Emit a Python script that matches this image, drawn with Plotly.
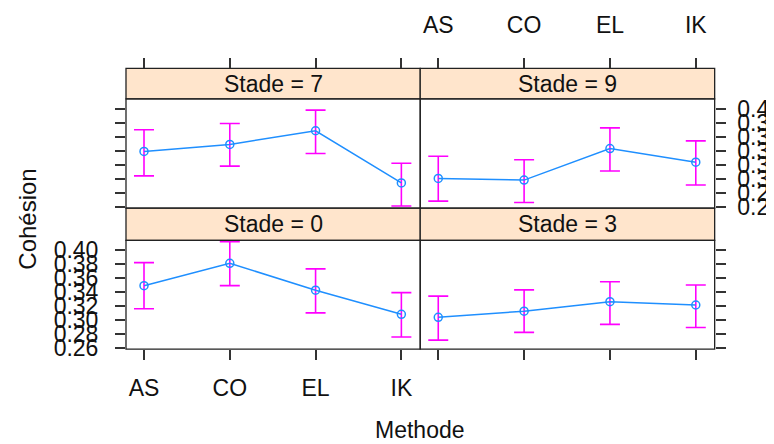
import plotly.graph_objects as go

methods = ["AS", "CO", "EL", "IK"]
stades = ["0", "3", "7", "9"]

# mean, lower, upper per stade
mean_s0 = [0.349, 0.381, 0.3425, 0.308]
lo_s0 = [0.316, 0.349, 0.310, 0.2754]
hi_s0 = [0.382, 0.412, 0.373, 0.339]

mean_s3 = [0.3036, 0.3125, 0.326, 0.3213]
lo_s3 = [0.271, 0.282, 0.2935, 0.289]
hi_s3 = [0.334, 0.343, 0.3546, 0.350]

mean_s7 = [0.339, 0.349, 0.3685, 0.294]
lo_s7 = [0.304, 0.318, 0.336, 0.261]
hi_s7 = [0.370, 0.379, 0.398, 0.322]

mean_s9 = [0.3004, 0.298, 0.343, 0.3236]
lo_s9 = [0.268, 0.266, 0.311, 0.291]
hi_s9 = [0.332, 0.327, 0.3726, 0.354]

y_ticks = [0.26, 0.28, 0.30, 0.32, 0.34, 0.36, 0.38, 0.40]
y_tick_text = ["0.26", "0.28", "0.30", "0.32", "0.34", "0.36", "0.38", "0.40"]

W, H = 774, 444
FONT = "Liberation Sans, Arial, sans-serif"
FS = 23
BLUE = "#1f8fff"
MAG = "#ff00ff"
STRIP = "#ffe5cc"

def px_x(v):
    return v / W

def px_y(v):
    return 1 - v / H

# panel geometry (pixels)
xl0, xl1 = 118.3, 413.3
xr0, xr1 = 413.3, 708.5
top_strip0, top_plot0, top_plot1 = 59.3, 91.0, 204.0
bot_strip0, bot_plot0, bot_plot1 = 204.0, 237.3, 350.0

panels = [
    ("0", mean_s0, lo_s0, hi_s0, (xl0, xl1), (bot_plot0, bot_plot1), bot_strip0, 1),
    ("3", mean_s3, lo_s3, hi_s3, (xr0, xr1), (bot_plot0, bot_plot1), bot_strip0, 2),
    ("7", mean_s7, lo_s7, hi_s7, (xl0, xl1), (top_plot0, top_plot1), top_strip0, 3),
    ("9", mean_s9, lo_s9, hi_s9, (xr0, xr1), (top_plot0, top_plot1), top_strip0, 4),
]

fig = go.Figure()
shapes = []
annotations = []
layout = {}

yr = [0.258, 0.414]
xr = [-0.21, 3.22]

for stade, m, lo, hi, xd, yd, strip_top, i in panels:
    sfx = "" if i == 1 else str(i)
    fig.add_trace(go.Scatter(
        x=methods, y=m,
        xaxis="x" + sfx, yaxis="y" + sfx,
        mode="lines+markers",
        line=dict(color=BLUE, width=1.5),
        marker=dict(symbol="circle-open", size=8, color=BLUE, line=dict(width=1.5)),
        error_y=dict(type="data", symmetric=False,
                     array=[h - v for h, v in zip(hi, m)],
                     arrayminus=[v - l for l, v in zip(lo, m)],
                     color=MAG, thickness=1.6, width=10),
        showlegend=False, cliponaxis=False,
    ))
    xdom = [px_x(xd[0]), px_x(xd[1])]
    ydom = [px_y(yd[1]), px_y(yd[0])]
    is_top = i in (3, 4)
    is_left = i in (1, 3)
    xa = dict(domain=xdom, range=xr, type="category", categoryorder="array",
              categoryarray=methods, showgrid=False, zeroline=False, showline=False,
              ticks="outside", ticklen=10, tickwidth=1.5, tickcolor="#333",
              tickfont=dict(family=FONT, size=FS, color="#111"),
              showticklabels=(i in (1, 4)),
              ticklabelstandoff=(16 if is_top else 8))
    if is_top:
        xa.update(side="top", anchor="free", position=px_y(strip_top))
    else:
        xa.update(side="bottom", anchor="y" + sfx)
    ya = dict(domain=ydom, range=yr, showgrid=False, zeroline=False, showline=False,
              tickmode="array", tickvals=y_ticks, ticktext=y_tick_text,
              ticks="outside", ticklen=10, tickwidth=1.5, tickcolor="#333",
              tickfont=dict(family=FONT, size=FS, color="#111"),
              showticklabels=(i in (1, 4)), anchor="x" + sfx,
              side="left" if is_left else "right",
              ticklabelstandoff=(12 if is_left else 7))
    layout["xaxis" + sfx] = xa
    layout["yaxis" + sfx] = ya
    shapes.append(dict(type="rect", xref="paper", yref="paper",
                       x0=xdom[0], x1=xdom[1], y0=px_y(yd[0]), y1=px_y(strip_top),
                       fillcolor=STRIP, line=dict(color="#222", width=1.3), layer="below"))
    shapes.append(dict(type="rect", xref="paper", yref="paper",
                       x0=xdom[0], x1=xdom[1], y0=ydom[0], y1=ydom[1],
                       fillcolor="rgba(0,0,0,0)", line=dict(color="#222", width=1.3), layer="above"))
    annotations.append(dict(xref="paper", yref="paper",
                            x=(xdom[0] + xdom[1]) / 2, y=px_y((strip_top + yd[0]) / 2),
                            text=f"Stade = {stade}", showarrow=False,
                            font=dict(family=FONT, size=FS, color="#111"),
                            xanchor="center", yanchor="middle"))

annotations.append(dict(xref="paper", yref="paper", x=px_x(413), y=px_y(434),
                        text="Methode", showarrow=False,
                        font=dict(family=FONT, size=FS, color="#111"),
                        xanchor="center", yanchor="middle"))
annotations.append(dict(xref="paper", yref="paper", x=px_x(20), y=px_y(215),
                        text="Cohésion", showarrow=False, textangle=-90,
                        font=dict(family=FONT, size=FS + 1, color="#111"),
                        xanchor="center", yanchor="middle"))

fig.update_layout(
    width=W, height=H, margin=dict(l=0, r=0, t=0, b=0),
    paper_bgcolor="white", plot_bgcolor="white",
    shapes=shapes, annotations=annotations, **layout,
)

fig.write_html("out.html")
